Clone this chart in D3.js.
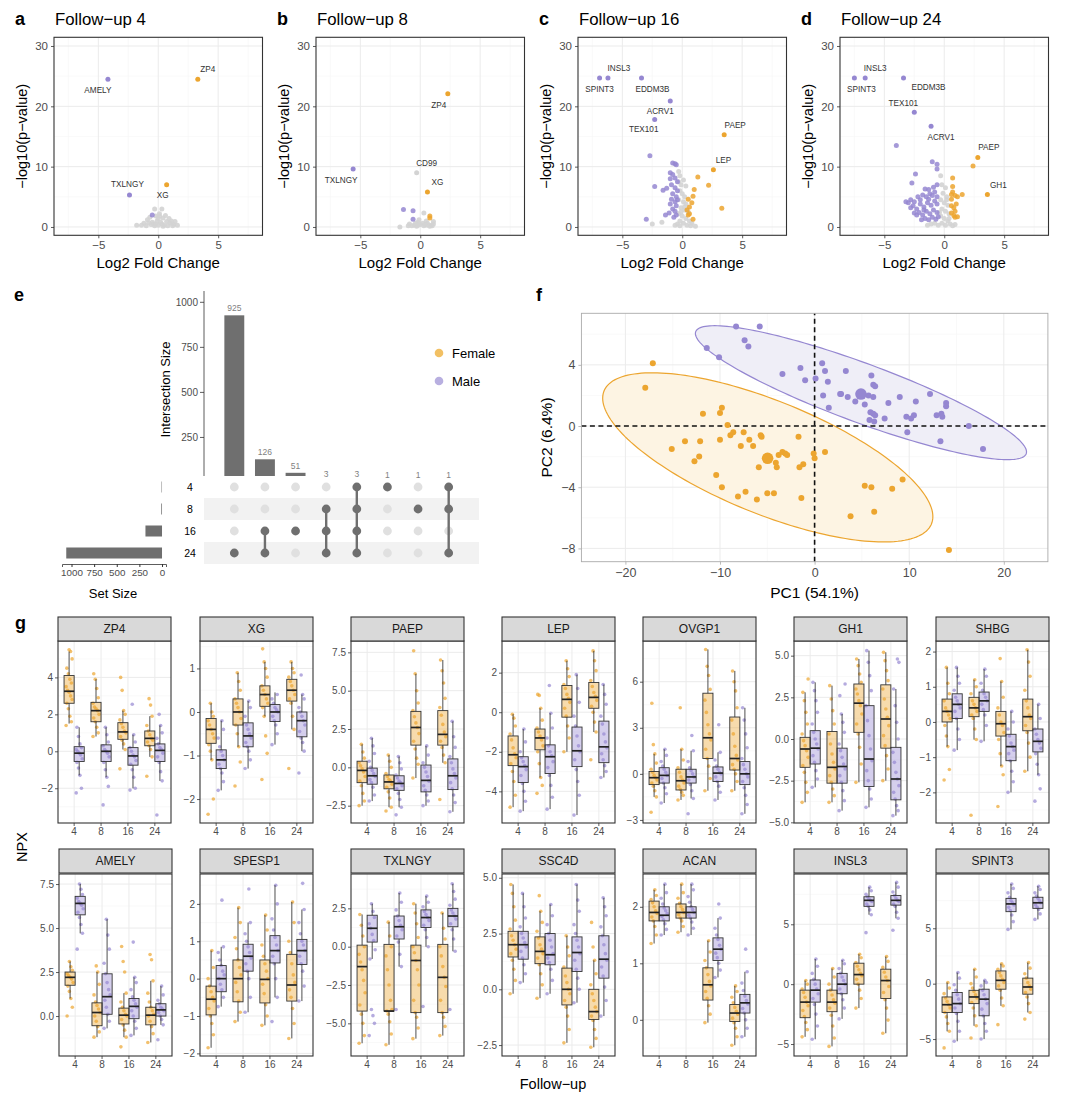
<!DOCTYPE html>
<html>
<head>
<meta charset="utf-8">
<script src="https://cdn.jsdelivr.net/npm/d3@7"></script>
<style>
  body { margin: 0; background: #fff; }
  text { font-family: 'Liberation Sans', Arial, Helvetica, sans-serif; }
</style>
</head>
<body>
<script>
// ---------------------------------------------------------------- data

const followUps = ['4', '8', '16', '24'];
const sexes = ['F', 'M'];

// volcano plots (a-d): labelled proteins [name, group, log2FC, -log10 p]
const volcanoLabelled = [
  [['AMELY', 'M', -4.2, 24.5], ['ZP4', 'F', 3.3, 24.5], ['TXLNGY', 'M', -2.4, 5.3], ['XG', 'F', 0.7, 7.0]],
  [['TXLNGY', 'M', -5.6, 9.6], ['ZP4', 'F', 2.3, 22.1], ['CD99', 'N', -0.3, 9.0], ['XG', 'F', 0.6, 5.8]],
  [['SPINT3', 'M', -6.9, 24.7], ['INSL3', 'M', -6.2, 24.7], ['EDDM3B', 'M', -3.4, 24.7], ['ACRV1', 'M', -1.0, 20.9],
   ['TEX101', 'M', -2.3, 17.8], ['PAEP', 'F', 3.5, 15.3], ['LEP', 'F', 2.6, 9.5]],
  [['SPINT3', 'M', -7.5, 24.7], ['INSL3', 'M', -6.6, 24.7], ['EDDM3B', 'M', -3.4, 24.7], ['TEX101', 'M', -2.5, 19.0],
   ['ACRV1', 'M', -1.1, 16.7], ['PAEP', 'F', 2.8, 11.5], ['GH1', 'F', 3.6, 5.4]],
];

// remaining proteins, "log2FC,-log10p" pairs
const volcanoNS = [
  '-1.8,0.3 -1.2,0.6 -0.9,1.2 -0.6,0.4 -0.3,3.0 0.3,3.0 -0.2,1.8 0.1,2.2 0.4,1.5 0.7,0.9 1.0,0.6 1.3,0.4 1.6,0.3 -0.5,0.8 0,0.3 0.2,0.8 -0.3,0.2 0.5,0.3 0.8,0.2 -1.0,0.2 1.1,1.0 0.6,1.9 -0.1,1.0 0.9,1.4 -0.7,1.6 0.3,0.5 -0.4,0.5 0,1.4 1.4,0.9 -1.4,0.3 -0.2,0.5 0.4,0.1 1.2,0.2 -0.8,0.7 0.1,1.8',
  '-1.7,0 -0.9,0.5 -0.5,0.3 0.3,2.3 -0.2,0.8 0,0.4 0.3,0.2 0.6,0.6 0.9,0.3 1.1,0.9 -0.7,0.2 0.5,1.0 -0.3,0.1 0.2,0.6 0.8,0.1 1.0,0.2 -0.1,1.2 -0.4,0.6 0.6,0.3 -1,0.2 1.1,0.5 0.4,0.4 -0.2,0.3',
  '-0.3,9.2 -0.2,8.5 -0.3,7.5 -0.1,7.0 0.3,6.8 -0.2,6.0 0,5.5 0.2,5.0 -0.3,4.5 0.1,4.2 0.3,3.8 -0.1,3.2 0.2,2.8 0.5,2.5 -0.3,2.2 0,1.8 0.3,1.4 -0.2,1.0 0.6,1.0 0.1,0.6 0.4,0.3 -0.4,0.5 0.8,0.6 1.1,0.1 -1.7,0.8 -2.5,0.5 -0.6,0.3 0.7,0.2 -0.2,0.2 0.2,3.3 -0.1,2.5 0.1,7.8',
  '-0.3,8.5 -0.2,7.0 0.1,6.5 -0.1,5.6 0.2,5.0 -0.3,4.5 0,4.0 0.3,3.6 -0.2,3.0 0.1,2.6 0.4,2.2 -0.3,1.8 0,1.4 0.3,1.0 -0.2,0.6 0.1,0.3 0.5,0.5 -0.5,0.3 -0.8,0.6 0.7,0.2 -1.1,0.5 -1.4,0.3 0.2,4.5 -0.4,2.4 0.4,1.4 0.9,0.4',
];
const volcanoFemale = [
  '',
  '0.8,1.8 0.8,1.5',
  '1.3,8.3 2.2,6.9 1.0,6.2 0.9,5.1 0.5,4.6 3.3,3.1 0.6,2.2 0.9,1.3 0.5,2.0 0.6,3.3 0.4,2.8 0.8,4.0',
  '0.7,8.1 0.7,6.7 0.7,5.8 0.6,5.4 1.5,5.4 1.1,5.0 0.9,5.2 0.6,4.6 1.0,3.8 0.6,3.5 0.8,3.2 0.9,2.6 0.8,1.9 1.1,1.7 0.9,1.6 0.6,2.3 2.4,10.1',
];
const volcanoMale = [
  '-0.5,2.0',
  '-1.4,2.9 -0.6,2.7 -0.6,1.3',
  '-2.7,11.8 -0.8,10.6 -0.6,10.5 -0.5,10.3 -1.0,9.0 -0.8,8.7 -1.0,8.0 -0.6,8.1 -2.3,6.7 -1.6,6.1 -1.3,6.4 -0.9,7.0 -0.6,6.5 -0.8,5.5 -0.5,5.0 -0.9,4.6 -0.6,4.2 -1.0,3.8 -0.5,3.5 -0.8,3.0 -0.6,2.6 -1.1,2.3 -0.5,2.0 -0.7,1.6 -3.0,1.3 -1.4,2.0 -0.4,7.5 -0.4,6.0 -0.4,4.5',
  '-4.0,13.5 -1.0,10.8 -0.6,10.4 -0.6,9.6 -2.4,8.8 -2.7,7.3 -0.6,7.0 -1.3,6.2 -1.6,6.3 -0.9,6.6 -2.8,4.5 -3.0,4.0 -2.5,4.2 -2.2,5.0 -2.0,4.5 -1.8,5.3 -1.5,5.0 -1.2,5.5 -1.0,5.2 -0.8,5.8 -0.6,5.0 -2.6,3.5 -2.3,3.0 -2.0,3.8 -1.7,3.3 -1.4,4.0 -1.1,3.6 -0.8,4.3 -0.6,3.8 -2.1,2.4 -1.8,2.0 -1.5,2.6 -1.2,2.2 -0.9,2.8 -0.6,2.4 -1.6,1.4 -1.3,1.2 -1.0,1.6 -0.7,1.3 -2.5,2.3 -2.3,2.0 -1.9,1.2 -2.8,3.2 -3.2,4.2 -1.3,4.6 -0.5,1.7 -1.7,2.8',
];

// upset plot (e)
const setNames = ['4', '8', '16', '24'];
const setSizes = [5, 8, 183, 1058];
const intersectionSizes = [925, 126, 51, 3, 3, 1, 1, 1];
const intersectionSets = [['24'], ['16', '24'], ['16'], ['8', '16', '24'], ['4', '8', '16', '24'], ['4'], ['8'], ['4', '8', '24']];

// PCA (f), "PC1,PC2" pairs
const pcaFemale = '-17.1,4.1 -17.9,2.5 -9.8,1.2 -10.0,0.85 -11.8,0.8 -9.2,0.07 -15.1,-1.5 -13.7,-1.0 -12.1,-1.0 -10.0,-0.9 -8.9,-0.6 -8.6,-0.4 -7.5,-0.4 -6.9,-0.9 -7.8,-1.3 -6.5,-1.3 -5.7,-0.6 -5.6,-0.7 -1.7,-0.7 -12.7,-2.3 -12.2,-2.0 -3.8,-1.9 -3.4,-1.7 -3.1,-1.8 -2.9,-1.9 -4.1,-2.4 -4.0,-2.7 -5.9,-2.7 -1.6,-2.7 -1.2,-2.5 -0.1,-1.8 0.0,-2.1 1.1,-1.7 -10.4,-3.2 -9.8,-4.0 -7.3,-4.3 -8.1,-4.6 -5.0,-4.4 -4.3,-4.4 -6.1,-4.8 -1.4,-4.7 5.3,-3.9 6.0,-4.0 8.2,-4.1 9.3,-3.5 3.8,-5.9 6.3,-5.6 14.2,-8.1';
const pcaMale = '-8.3,6.5 -5.8,6.5 -7.4,5.6 -7.0,5.2 -11.4,5.1 -10.1,4.5 0.8,4.1 -1.5,3.8 1.1,3.6 3.3,3.6 -3.4,3.4 6.0,3.3 -1.0,3.0 0.1,3.1 1.4,2.9 6.2,2.7 6.4,2.6 2.7,2.1 2.8,2.1 3.5,1.9 0.9,2.0 5.7,2.0 6.2,1.9 9.0,1.9 12.2,2.1 4.3,1.6 5.3,1.4 7.8,1.5 10.7,1.6 13.9,1.5 13.9,1.3 1.5,1.2 5.9,0.9 6.2,0.8 6.4,0.7 7.4,0.5 5.8,0.4 6.3,0.3 9.7,0.6 10.2,0.5 10.5,0.7 12.9,0.7 13.4,0.8 13.5,0.6 16.3,0.0 9.8,-0.4 13.3,-1.0 17.8,-1.5';
const pcaCentroids = [['F', -4.97, -2.11], ['M', 4.9, 2.09]];
// ellipse: centre, conjugate half-axis (ax, ay) and vertical half-axis h
const pcaEllipses = [
  { group: 'F', cx: -4.95, cy: -2.05, ax: 17.45, ay: -3.87, h: 3.95 },
  { group: 'M', cx: 4.9, cy: 2.18, ax: 17.5, ay: -3.87, h: 2.05 },
];

// boxplots (g): per protein, 8 groups in order 4F 4M 8F 8M 16F 16M 24F 24M
const genes = ['ZP4', 'XG', 'PAEP', 'LEP', 'OVGP1', 'GH1', 'SHBG', 'AMELY', 'SPESP1', 'TXLNGY', 'SSC4D', 'ACAN', 'INSL3', 'SPINT3'];

const geneTicks = {
  ZP4: [-2, 0, 2, 4], XG: [-2, -1, 0, 1], PAEP: [-2.5, 0, 2.5, 5, 7.5], LEP: [-4, -2, 0, 2],
  OVGP1: [-3, 0, 3, 6], GH1: [-5, -2.5, 0, 2.5, 5], SHBG: [-2, -1, 0, 1, 2],
  AMELY: [0, 2.5, 5, 7.5], SPESP1: [-2, -1, 0, 1, 2], TXLNGY: [-5, -2.5, 0, 2.5],
  SSC4D: [-2.5, 0, 2.5, 5], ACAN: [0, 1, 2], INSL3: [-5, 0, 5], SPINT3: [-5, 0, 5],
};

// [lower whisker, q1, median, q3, upper whisker]
const boxStats = {
  ZP4: [[1.5, 2.6, 3.25, 4.1, 5.4], [-1.3, -0.55, -0.1, 0.25, 1.3], [0.8, 1.6, 2.2, 2.65, 3.9], [-1.4, -0.55, 0, 0.35, 1.3],
        [0.1, 0.65, 1.05, 1.55, 2.2], [-2.0, -0.75, -0.25, 0.2, 0.9], [-0.3, 0.3, 0.7, 1.1, 1.9], [-1.6, -0.55, 0.05, 0.4, 1.4]],
  XG: [[-1.1, -0.72, -0.4, -0.15, 0.2], [-1.8, -1.3, -1.1, -0.87, -0.2], [-0.8, -0.3, 0, 0.3, 0.9], [-1.3, -0.8, -0.55, -0.25, 0.25],
       [-0.1, 0.13, 0.4, 0.6, 1.15], [-0.75, -0.22, 0, 0.17, 0.45], [-0.4, 0.25, 0.5, 0.75, 1.15], [-0.9, -0.57, -0.2, 0, 0.4]],
  PAEP: [[-2.5, -1.0, -0.2, 0.4, 1.5], [-2.2, -1.1, -0.55, -0.05, 1.9], [-2.6, -1.4, -0.95, -0.5, 0.8], [-2.6, -1.5, -1.05, -0.55, 0.7],
         [-0.7, 1.45, 2.6, 3.65, 6.1], [-2.5, -1.6, -0.85, 0.15, 1.4], [0.3, 1.45, 2.15, 3.7, 7.0], [-2.9, -1.45, -0.55, 0.55, 3.0]],
  LEP: [[-4.8, -2.7, -2.15, -1.2, -0.1], [-5.0, -3.55, -2.75, -2.25, -0.85], [-3.3, -1.9, -1.3, -0.85, 0.2], [-4.9, -3.1, -2.25, -1.65, -0.05],
        [-2.0, -0.25, 0.65, 1.35, 2.6], [-5.2, -2.75, -1.95, -0.75, 1.9], [-1.0, 0.2, 0.75, 1.5, 3.1], [-3.3, -2.55, -1.75, -0.45, 1.4]],
  OVGP1: [[-1.5, -0.7, -0.25, 0.15, 1.3], [-1.9, -0.6, -0.1, 0.4, 1.6], [-1.7, -1.05, -0.45, 0.3, 1.6], [-1.6, -0.6, -0.2, 0.3, 1.5],
          [-1.1, 1.0, 2.35, 5.25, 8.1], [-1.7, -0.5, 0.05, 0.45, 1.4], [-1.1, 0.25, 1.0, 3.7, 6.7], [-2.6, -0.7, 0, 0.8, 4.3]],
  GH1: [[-3.8, -1.7, -0.6, 0.1, 2.8], [-2.9, -1.5, -0.55, 0.5, 3.4], [-3.8, -2.65, -1.7, 0.45, 3.2], [-4.3, -2.65, -1.65, -0.55, 1.5],
        [-2.6, 0.4, 2.15, 3.3, 4.8], [-4.1, -2.85, -1.2, 2.0, 5.3], [-2.5, -0.55, 1.2, 3.25, 5.2], [-4.6, -3.65, -2.4, -0.5, 3.0]],
  SHBG: [[-0.7, 0, 0.3, 0.65, 1.55], [-0.8, 0.1, 0.5, 0.8, 1.55], [-0.5, 0.15, 0.4, 0.7, 1.2], [-0.55, 0.3, 0.6, 0.85, 1.5],
         [-1.25, -0.4, -0.05, 0.3, 1.15], [-2.0, -1.1, -0.7, -0.35, 0.3], [-1.4, -0.25, 0.15, 0.65, 2.05], [-1.5, -0.85, -0.55, -0.2, 0.5]],
  AMELY: [[1.0, 1.75, 2.2, 2.5, 3.1], [4.7, 5.75, 6.4, 6.8, 7.5], [-1.2, -0.55, 0.2, 0.75, 2.5], [-0.7, 0.1, 1.1, 2.4, 5.5],
          [-1.2, -0.45, 0.05, 0.45, 1.3], [-1.1, -0.15, 0.55, 1.0, 2.2], [-1.5, -0.5, 0.05, 0.5, 2.0], [-0.5, 0, 0.35, 0.7, 1.7]],
  SPESP1: [[-1.85, -0.97, -0.55, -0.2, 0.75], [-0.75, -0.35, 0, 0.35, 0.85], [-1.15, -0.62, 0, 0.5, 1.9], [-0.9, 0.2, 0.6, 0.92, 1.5],
           [-1.25, -0.65, -0.02, 0.5, 1.7], [-0.5, 0.42, 0.75, 1.15, 2.5], [-1.6, -0.6, -0.17, 0.65, 2.05], [-0.6, 0.38, 0.75, 1.05, 1.85]],
  TXLNGY: [[-6.3, -4.2, -1.3, 0.1, 2.1], [-0.8, 0.3, 1.2, 2.05, 2.8], [-6.4, -4.2, -4.2, 0.15, 1.6], [-1.3, 0.5, 1.3, 2.0, 3.5],
           [-6.0, -4.3, -0.9, 0.1, 2.8], [0, 1.25, 1.9, 2.4, 3.3], [-5.8, -4.3, -2.0, 0.15, 2.2], [-0.3, 1.3, 2.0, 2.5, 4.1]],
  SSC4D: [[-0.2, 1.45, 2.0, 2.6, 4.7], [0.3, 1.35, 2.0, 2.6, 4.3], [-0.4, 1.15, 1.7, 2.35, 3.5], [-0.2, 1.1, 1.55, 2.5, 3.8],
          [-2.4, -0.7, 0, 0.95, 2.4], [-0.6, 0.8, 1.65, 2.35, 4.7], [-2.6, -1.35, -1.0, 0, 1.3], [-1.2, 0.5, 1.35, 2.4, 4.1]],
  ACAN: [[1.35, 1.75, 1.9, 2.1, 2.3], [1.5, 1.75, 1.85, 2.0, 2.4], [1.55, 1.8, 1.9, 2.05, 2.4], [1.5, 1.8, 1.9, 2.0, 2.4],
         [-0.05, 0.35, 0.62, 0.92, 1.4], [0.75, 1.05, 1.25, 1.45, 1.8], [-0.45, -0.03, 0.12, 0.27, 0.6], [-0.3, 0.12, 0.3, 0.45, 0.85]],
  INSL3: [[-4.4, -2.8, -1.5, -0.5, 0.3], [-4.6, -1.5, -0.5, 0.35, 2.1], [-5.2, -2.3, -1.5, -0.5, 1.3], [-2.9, -0.8, 0, 0.9, 2.0],
          [-2.0, 0, 0.8, 1.75, 2.5], [5.8, 6.5, 7.0, 7.3, 8.1], [-4.1, -1.2, 0.3, 1.25, 2.3], [5.5, 6.6, 7.0, 7.4, 8.5]],
  SPINT3: [[-4.3, -2.6, -1.9, -1.2, 0.1], [-5.2, -2.6, -1.8, -0.8, 1.0], [-3.8, -1.8, -1.2, -0.6, 1.3], [-5.0, -2.9, -1.4, -0.5, 0.3],
           [-2.0, -0.5, 0.3, 1.15, 1.8], [4.9, 6.5, 7.2, 7.7, 9.0], [-2.6, -0.95, -0.3, 0.5, 1.9], [5.8, 6.8, 7.3, 7.8, 8.8]],
};

// individual NPX values (subset)
const boxPoints = {
  ZP4: ['1.4 1.6 1.9 2.3 2.6 2.8 3.0 3.2 3.3 3.5 3.7 3.9 4.2 4.5 5.0 5.4 5.5', '-2.25 -2.0 -1.3 -0.9 -0.6 -0.4 -0.2 -0.1 0 0.1 0.2 0.4 0.8 1.3',
        '0.8 1.0 1.3 1.6 1.8 2.0 2.2 2.3 2.4 2.6 2.9 3.4 3.9 4.2', '-2.9 -1.9 -1.4 -1.0 -0.6 -0.3 -0.1 0 0.1 0.3 0.5 0.9 1.3',
        '-0.95 0.1 0.4 0.6 0.8 1.0 1.1 1.3 1.5 1.7 2.0 2.2 3.3 4.0', '-2.1 -2.0 -1.4 -1.0 -0.7 -0.5 -0.3 -0.2 0 0.2 0.5 0.9 2.55',
        '-1.35 -0.3 0.1 0.3 0.5 0.6 0.7 0.9 1.1 1.4 1.9 2.5 2.85', '-3.45 -1.6 -1.1 -0.6 -0.3 -0.1 0.1 0.2 0.4 0.7 1.0 1.4 2.0'],
  XG: ['-2.35 -2.0 -1.1 -0.9 -0.75 -0.6 -0.5 -0.4 -0.3 -0.2 -0.1 0 0.2', '-1.8 -1.6 -1.4 -1.3 -1.2 -1.1 -1.0 -0.9 -0.8 -0.6 -0.4 -0.2',
       '-1.7 -1.15 -0.8 -0.5 -0.3 -0.15 0 0.1 0.2 0.3 0.5 0.7 0.9', '-1.3 -1.1 -0.9 -0.8 -0.7 -0.6 -0.5 -0.4 -0.3 -0.1 0.1 0.25',
       '-1.55 -0.95 -0.55 -0.1 0.1 0.2 0.3 0.4 0.5 0.6 0.8 1.0 1.15 1.45', '-0.75 -0.5 -0.3 -0.2 -0.1 0 0.05 0.1 0.2 0.3 0.4',
       '-1.3 -0.4 -0.1 0.2 0.3 0.4 0.5 0.6 0.7 0.8 0.9 1.0 1.15', '-1.4 -0.9 -0.7 -0.6 -0.45 -0.3 -0.2 -0.1 0 0.1 0.3 0.4 0.85'],
  PAEP: ['-2.5 -2.2 -1.7 -1.2 -0.9 -0.6 -0.3 -0.1 0.1 0.3 0.6 1.0 1.5', '-2.2 -1.8 -1.3 -1.0 -0.8 -0.6 -0.4 -0.2 0 0.4 0.9 1.4 1.9',
         '-2.85 -2.6 -2.0 -1.6 -1.3 -1.1 -0.9 -0.8 -0.6 -0.4 0 0.4 0.8', '-3.1 -2.6 -2.1 -1.7 -1.4 -1.2 -1.0 -0.9 -0.7 -0.5 -0.1 0.3 0.7',
         '-0.7 0.2 0.6 1.2 1.7 2.2 2.6 2.9 3.3 3.7 4.2 5.0 6.1 7.6', '-2.5 -2.2 -1.8 -1.5 -1.2 -0.9 -0.6 -0.3 0 0.3 0.8 1.4',
         '-2.1 0.3 0.8 1.3 1.7 2.0 2.3 2.8 3.4 3.9 4.5 5.5 6.3 7.0', '-2.9 -2.3 -1.8 -1.4 -1.0 -0.7 -0.4 -0.1 0.3 0.7 1.3 2.0 3.0'],
  LEP: ['-4.8 -4.2 -3.5 -3.0 -2.6 -2.3 -2.1 -1.8 -1.4 -1.1 -0.7 -0.3 -0.1', '-5.0 -4.5 -4.0 -3.6 -3.2 -2.9 -2.7 -2.5 -2.3 -2.0 -1.5 -0.85',
        '-4.1 -3.7 -3.3 -2.6 -2.0 -1.7 -1.4 -1.2 -1.0 -0.8 -0.4 0.2 0.85 0.9', '-4.9 -4.3 -3.7 -3.2 -2.8 -2.5 -2.2 -2.0 -1.7 -1.3 -0.8 -0.05 1.35',
        '-2.0 -1.3 -0.7 -0.2 0.2 0.5 0.7 0.9 1.2 1.4 1.8 2.2 2.6', '-5.2 -4.2 -3.5 -2.9 -2.4 -2.0 -1.7 -1.2 -0.7 -0.2 0.5 1.2 1.9',
        '-2.4 -1.0 -0.5 0 0.3 0.6 0.8 1.0 1.3 1.6 2.1 2.6 3.1', '-3.3 -3.0 -2.7 -2.4 -2.1 -1.8 -1.5 -1.1 -0.6 -0.2 0.4 0.9 1.4'],
  OVGP1: ['-2.5 -1.5 -1.1 -0.8 -0.6 -0.4 -0.25 -0.1 0.1 0.3 0.7 1.3 1.9 4.6', '-1.9 -1.3 -0.9 -0.6 -0.3 -0.1 0.1 0.3 0.5 0.8 1.2 1.6',
          '-1.7 -1.4 -1.2 -1.0 -0.8 -0.6 -0.4 -0.2 0.1 0.4 0.9 1.6 4.3', '-2.6 -1.6 -1.1 -0.7 -0.4 -0.2 0 0.2 0.4 0.8 1.5 2.5',
          '-1.1 -0.3 0.5 1.0 1.6 2.2 2.6 3.2 4.0 4.8 5.5 6.4 7.0 8.1', '-1.7 -1.2 -0.8 -0.5 -0.2 0 0.1 0.3 0.5 0.9 1.4 3.2',
          '-1.1 -0.5 0 0.3 0.6 0.9 1.2 1.8 2.6 3.5 4.3 5.4 6.0 6.7', '-2.6 -2.0 -1.4 -0.9 -0.5 -0.2 0 0.3 0.6 1.0 1.7 2.6 3.5 4.3'],
  GH1: ['-3.8 -3.2 -2.6 -2.0 -1.6 -1.1 -0.7 -0.4 -0.1 0.3 0.9 1.6 2.3 2.8 3.6', '-2.9 -2.4 -1.9 -1.4 -1.0 -0.6 -0.3 0 0.4 0.9 1.6 2.3 2.9 3.4',
        '-3.8 -3.4 -3.0 -2.6 -2.2 -1.8 -1.4 -0.9 -0.3 0.3 0.9 1.7 2.4 3.2', '-4.3 -3.7 -3.1 -2.6 -2.2 -1.8 -1.5 -1.1 -0.7 -0.3 0.4 1.0 1.5 2.6 3.3',
        '-2.6 -1.5 -0.5 0.3 0.9 1.5 2.0 2.3 2.7 3.0 3.4 3.9 4.4 4.8', '-4.1 -3.6 -3.0 -2.5 -1.9 -1.3 -0.6 0.2 1.1 2.0 2.9 3.8 4.6 5.3',
        '-2.5 -1.8 -1.0 -0.4 0.2 0.8 1.3 1.8 2.4 3.0 3.5 4.1 4.7 5.2', '-4.6 -4.3 -4.0 -3.6 -3.2 -2.8 -2.4 -2.0 -1.4 -0.8 0 1.0 2.0 3.0 4.6 4.8'],
  SHBG: ['-1.65 -1.35 -0.7 -0.4 -0.1 0.1 0.2 0.3 0.4 0.6 0.8 1.1 1.55', '-0.8 -0.5 -0.2 0.1 0.3 0.4 0.5 0.6 0.7 0.9 1.1 1.3 1.55',
         '-2.65 -0.5 -0.2 0.1 0.2 0.3 0.4 0.5 0.6 0.8 1.0 1.2', '-0.55 -0.1 0.2 0.35 0.5 0.6 0.7 0.8 0.9 1.1 1.3 1.5',
         '-2.4 -1.5 -1.25 -0.9 -0.5 -0.3 -0.1 0 0.2 0.4 0.7 1.15 1.8', '-2.0 -1.7 -1.4 -1.1 -0.9 -0.8 -0.7 -0.6 -0.4 -0.2 0 0.3',
         '-1.4 -1.0 -0.6 -0.3 -0.1 0.1 0.2 0.4 0.6 0.9 1.3 1.7 2.05', '-2.25 -1.9 -1.5 -1.2 -0.9 -0.75 -0.6 -0.5 -0.35 -0.2 0.1 0.5'],
  AMELY: ['0 0.5 1.0 1.4 1.7 1.9 2.1 2.2 2.3 2.4 2.6 2.8 3.1', '3.8 4.7 5.2 5.6 5.9 6.1 6.3 6.4 6.5 6.7 6.9 7.2 7.5',
          '-1.2 -0.9 -0.6 -0.3 0 0.2 0.4 0.6 0.8 1.2 1.8 2.5 2.85', '-0.7 -0.3 0.1 0.5 0.9 1.2 1.5 1.9 2.4 3.0 3.8 4.6 5.5',
          '-1.75 -1.2 -0.8 -0.5 -0.2 0 0.1 0.3 0.5 0.8 1.3 2.5 3.1 3.95', '-1.1 -0.7 -0.3 0 0.3 0.5 0.7 0.9 1.1 1.5 1.9 2.2 4.2',
          '-1.5 -1.0 -0.6 -0.3 0 0.1 0.3 0.5 0.8 1.3 2.0 3.2 3.5', '-1.35 -0.5 -0.2 0 0.2 0.3 0.4 0.5 0.7 0.9 1.2 1.7'],
  SPESP1: ['-1.85 -1.5 -1.2 -1.0 -0.8 -0.6 -0.5 -0.35 -0.2 0 0.3 0.75', '-0.75 -0.5 -0.3 -0.15 0 0.1 0.2 0.35 0.5 0.7 0.85 2.1',
           '-1.15 -0.9 -0.6 -0.35 -0.1 0.1 0.3 0.5 0.8 1.1 1.5 1.9', '-0.9 -0.5 0 0.2 0.4 0.55 0.7 0.85 1.0 1.2 1.5 2.4',
           '-1.25 -1.0 -0.7 -0.4 -0.15 0 0.2 0.4 0.6 0.9 1.3 1.7', '-1.15 -0.5 0 0.4 0.6 0.75 0.9 1.1 1.3 1.6 2.0 2.5',
           '-1.6 -1.2 -0.8 -0.5 -0.3 -0.1 0.1 0.4 0.7 1.0 1.5 2.05', '-0.6 -0.2 0.2 0.4 0.6 0.75 0.9 1.0 1.2 1.5 1.85 2.55'],
  TXLNGY: ['-6.3 -5.8 -5.0 -4.4 -3.8 -3.0 -2.2 -1.5 -1.0 -0.5 0 0.7 1.4 2.1', '-5.8 -5.0 -4.5 -4.1 -0.8 -0.2 0.4 0.8 1.2 1.5 1.9 2.3 2.8',
           '-6.4 -5.7 -4.9 -4.4 -4.2 -4.1 -3.5 -2.5 -1.5 -0.6 0 0.7 1.6', '-4.1 -1.3 -0.5 0.3 0.7 1.1 1.4 1.7 2.0 2.4 2.9 3.5',
           '-6.0 -5.3 -4.6 -4.3 -3.5 -2.5 -1.5 -0.9 -0.4 0 0.6 1.5 2.2 2.8', '-3.9 0 0.6 1.1 1.4 1.7 1.9 2.1 2.3 2.6 2.9 3.3',
           '-5.8 -5.2 -4.6 -4.3 -3.5 -2.6 -2.0 -1.3 -0.6 0 0.5 1.2 2.2', '-4.1 -0.3 0.5 1.1 1.5 1.8 2.0 2.2 2.4 2.7 3.1 3.6 4.1'],
  SSC4D: ['-0.2 0.4 0.9 1.3 1.6 1.8 2.0 2.2 2.4 2.7 3.1 3.7 4.3 4.7', '0.3 0.7 1.1 1.4 1.7 1.9 2.1 2.3 2.5 2.8 3.2 3.7 4.3',
          '-0.4 0.2 0.7 1.1 1.4 1.6 1.8 2.0 2.3 2.6 3.0 3.5 4.2', '-0.2 0.4 0.9 1.2 1.4 1.6 1.9 2.2 2.5 2.9 3.3 3.8',
          '-2.4 -1.8 -1.2 -0.8 -0.5 -0.2 0 0.3 0.6 1.0 1.5 1.9 2.4', '-0.6 0 0.5 0.9 1.3 1.6 1.9 2.2 2.5 2.9 3.5 4.0 4.7',
          '-2.6 -2.2 -1.8 -1.4 -1.2 -1.0 -0.8 -0.5 -0.2 0.2 0.7 1.3 1.9 3.0', '-1.2 -0.5 0.1 0.6 1.0 1.3 1.6 2.0 2.4 2.8 3.3 3.7 4.1'],
  ACAN: ['1.35 1.5 1.65 1.75 1.82 1.88 1.93 2.0 2.07 2.13 2.2 2.3', '1.5 1.6 1.7 1.77 1.83 1.88 1.93 1.98 2.05 2.15 2.25 2.4',
         '1.55 1.65 1.75 1.8 1.86 1.9 1.95 2.0 2.06 2.15 2.25 2.4', '1.5 1.62 1.73 1.8 1.85 1.9 1.95 2.0 2.08 2.18 2.3 2.4',
         '-0.05 0.1 0.25 0.38 0.5 0.6 0.68 0.8 0.92 1.05 1.2 1.4', '0.75 0.88 1.0 1.1 1.18 1.25 1.32 1.42 1.5 1.62 1.8 2.05',
         '-0.45 -0.3 -0.15 -0.05 0.03 0.1 0.15 0.22 0.3 0.4 0.5 0.6', '-0.3 -0.15 0 0.12 0.2 0.28 0.34 0.42 0.52 0.65 0.85 1.25'],
  INSL3: ['-4.4 -3.8 -3.2 -2.7 -2.2 -1.8 -1.5 -1.1 -0.7 -0.4 0 0.3', '-4.6 -3.5 -2.5 -1.7 -1.2 -0.8 -0.4 0 0.4 0.9 1.5 2.1',
          '-5.2 -4.5 -3.5 -2.6 -2.0 -1.6 -1.3 -0.9 -0.5 0 0.6 1.3', '-2.9 -2.0 -1.3 -0.8 -0.4 0 0.3 0.6 0.9 1.3 1.7 2.0',
          '-2.0 -1.2 -0.5 0 0.4 0.7 0.9 1.2 1.5 1.8 2.2 2.5', '4.3 5.8 6.2 6.5 6.7 6.9 7.0 7.1 7.3 7.5 7.8 8.1',
          '-4.1 -3.0 -2.0 -1.3 -0.7 -0.2 0.3 0.6 1.0 1.4 1.9 2.3', '4.5 5.5 6.0 6.5 6.7 6.9 7.0 7.2 7.4 7.7 8.1 8.5'],
  SPINT3: ['-5.8 -4.3 -3.6 -3.0 -2.6 -2.2 -1.9 -1.6 -1.3 -0.9 -0.4 0.1', '-5.2 -4.3 -3.4 -2.7 -2.2 -1.8 -1.4 -1.0 -0.6 -0.1 0.5 1.0',
           '-4.9 -3.8 -2.9 -2.2 -1.7 -1.3 -1.0 -0.7 -0.4 0 0.6 1.3', '-5.0 -4.3 -3.6 -2.9 -2.3 -1.8 -1.4 -1.0 -0.6 -0.2 0.1 0.3',
           '-3.7 -2.0 -1.3 -0.6 -0.2 0.1 0.4 0.7 1.0 1.3 1.6 1.8', '4.9 5.6 6.2 6.6 6.9 7.1 7.3 7.5 7.8 8.2 8.6 9.0',
           '-3.2 -2.6 -1.8 -1.2 -0.8 -0.5 -0.2 0.1 0.5 0.9 1.4 1.9', '5.8 6.3 6.7 6.9 7.1 7.3 7.5 7.7 7.9 8.2 8.5 8.8'],
};

// ---------------------------------------------------------------- layout & style

const Style = {
  female: '#ECA52F',
  male: '#9587D1',
  ns: '#D3D3D3',
  legendFemale: '#F2C063',
  legendMale: '#B8AFE0',
  femaleFill: '#FDF4E3',
  maleFill: '#EFEEF7',
  upset: '#6F6F6F',
  upsetOff: '#E0E0E0',
  gridMajor: '#EBEBEB',
  gridMinor: '#F5F5F5',
  border: '#333333',
  tickText: '#4D4D4D',
};

const Layout = {
  volcanoLeft: [54, 316, 578, 840],
  volcanoWidth: 208.5,
  volcanoTop: 37.3,
  volcanoBottom: 235.3,
  pcaX: [581.4, 1047.9],
  pcaY: [561.7, 313.3],
  boxLeft: [[58, 200, 351, 502, 643, 794, 936], [59, 200, 351, 502, 643, 794, 936]],
  boxWidth: 113,
  stripTop: [617, 849],
  stripHeight: 24,
  plotTop: [641, 874],
  plotBottom: [823, 1056],
};

// label offsets in px, ggrepel-like placement
const volcanoNudge = [
  { AMELY: [-10, 11], ZP4: [10, -10], TXLNGY: [-2, -11], XG: [-4, 10] },
  { TXLNGY: [-12, 11], ZP4: [-9, 11], CD99: [10, -10], XG: [10, -10] },
  { SPINT3: [0, 11], INSL3: [11, -10], EDDM3B: [11, 11], ACRV1: [-10, 10], TEX101: [-11, 10], PAEP: [11, -10], LEP: [10, -10] },
  { SPINT3: [7, 11], INSL3: [10, -10], EDDM3B: [25, 9], TEX101: [-11, -9], ACRV1: [10, 11], PAEP: [11, -10], GH1: [11, -9] },
];

const boxDomains = {
  ZP4: [-3.88, 5.97], XG: [-2.55, 1.63], PAEP: [-3.63, 8.24], LEP: [-5.6, 3.6], OVGP1: [-3.2, 8.65],
  GH1: [-5.04, 5.88], SHBG: [-2.87, 2.3], AMELY: [-2.27, 8.07], SPESP1: [-2.07, 2.8], TXLNGY: [-7.13, 4.74],
  SSC4D: [-2.99, 5.17], ACAN: [-0.64, 2.58], INSL3: [-6.0, 9.2], SPINT3: [-6.53, 9.9],
};

const colorOf = g => (g === 'F' ? Style.female : g === 'M' ? Style.male : Style.ns);
const pairs = s => (s.trim() ? s.trim().split(/\s+/).map(p => p.split(',').map(Number)) : []);
const values = s => s.trim().split(/\s+/).map(Number);
const MINUS = '\u2212';

// ---------------------------------------------------------------- helpers

const svg = d3
  .select('body')
  .append('svg')
  .attr('width', 1080)
  .attr('height', 1093)
  .attr('xmlns', 'http://www.w3.org/2000/svg');

svg.append('rect').attr('width', 1080).attr('height', 1093).attr('fill', '#fff');

function text(g, x, y, str, opts = {}) {
  const t = g
    .append('text')
    .attr('x', x)
    .attr('y', y)
    .attr('font-size', opts.size || 12)
    .attr('fill', opts.fill || '#000')
    .attr('text-anchor', opts.anchor || 'start')
    .text(str);
  if (opts.bold) t.attr('font-weight', 'bold');
  if (opts.rotate) t.attr('transform', `rotate(-90, ${x}, ${y})`);
  if (opts.middle) t.attr('dy', '0.35em');
  return t;
}

function styleAxis(a, size) {
  a.attr('font-family', null).attr('font-size', size);
  a.select('.domain').remove();
  a.selectAll('.tick line').attr('stroke', Style.border).attr('stroke-width', 0.8);
  a.selectAll('.tick text').attr('fill', Style.tickText);
}

// minor breaks halfway between major breaks, kept inside the domain
function minorBreaks(major, domain) {
  const step = major[1] - major[0];
  const out = [];
  for (let v = major[0] - step / 2; v <= domain[1]; v += step) {
    if (v >= domain[0]) out.push(v);
  }
  return out;
}

function drawGrid(g, x, y, xMajor, xMinor, yMajor, yMinor) {
  const [x0, x1] = x.range();
  const [y0, y1] = y.range();
  const lines = (data, minor, vertical) =>
    g
      .selectAll(null)
      .data(data)
      .join('line')
      .attr('x1', d => (vertical ? x(d) : x0))
      .attr('x2', d => (vertical ? x(d) : x1))
      .attr('y1', d => (vertical ? y0 : y(d)))
      .attr('y2', d => (vertical ? y1 : y(d)))
      .attr('stroke', minor ? Style.gridMinor : Style.gridMajor)
      .attr('stroke-width', minor ? 0.6 : 1);
  lines(xMinor, true, true);
  lines(yMinor, true, false);
  lines(xMajor, false, true);
  lines(yMajor, false, false);
}

// ---------------------------------------------------------------- a-d volcano plots

function drawVolcano(i) {
  const left = Layout.volcanoLeft[i];
  const x = d3.scaleLinear().domain([-8.7, 8.7]).range([left, left + Layout.volcanoWidth]);
  const y = d3.scaleLinear().domain([-1.38, 31.44]).range([Layout.volcanoBottom, Layout.volcanoTop]);
  const g = svg.append('g').attr('class', `volcano v${i}`);

  drawGrid(g, x, y, [-5, 0, 5], [-7.5, -2.5, 2.5, 7.5], [0, 10, 20, 30], [5, 15, 25]);

  const layers = [
    ['N', volcanoNS[i]],
    ['F', volcanoFemale[i]],
    ['M', volcanoMale[i]],
  ];
  for (const [grp, str] of layers) {
    g.selectAll(null)
      .data(pairs(str))
      .join('circle')
      .attr('cx', d => x(d[0]))
      .attr('cy', d => y(d[1]))
      .attr('r', 2.5)
      .attr('fill', colorOf(grp))
      .attr('fill-opacity', grp === 'N' ? 0.9 : 0.85);
  }

  const lab = volcanoLabelled[i];
  g.selectAll(null)
    .data(lab)
    .join('circle')
    .attr('cx', d => x(d[2]))
    .attr('cy', d => y(d[3]))
    .attr('r', 2.5)
    .attr('fill', d => colorOf(d[1]));

  g.selectAll(null)
    .data(lab)
    .join('text')
    .attr('x', d => x(d[2]) + volcanoNudge[i][d[0]][0])
    .attr('y', d => y(d[3]) + volcanoNudge[i][d[0]][1])
    .attr('dy', '0.35em')
    .attr('text-anchor', 'middle')
    .attr('font-size', 8.2)
    .attr('fill', '#333')
    .text(d => d[0]);

  g.append('rect')
    .attr('x', x.range()[0])
    .attr('y', Layout.volcanoTop)
    .attr('width', Layout.volcanoWidth)
    .attr('height', Layout.volcanoBottom - Layout.volcanoTop)
    .attr('fill', 'none')
    .attr('stroke', Style.border)
    .attr('stroke-width', 1.1);

  const ax = g
    .append('g')
    .attr('transform', `translate(0,${Layout.volcanoBottom})`)
    .call(d3.axisBottom(x).tickValues([-5, 0, 5]).tickSize(3).tickPadding(3).tickFormat(d3.format('d')));
  styleAxis(ax, 11.5);
  const ay = g
    .append('g')
    .attr('transform', `translate(${left},0)`)
    .call(d3.axisLeft(y).tickValues([0, 10, 20, 30]).tickSize(3).tickPadding(3));
  styleAxis(ay, 11.5);

  const mid = (Layout.volcanoTop + Layout.volcanoBottom) / 2;
  text(g, left - 27, mid, `${MINUS}log10(p${MINUS}value)`, { size: 14.5, anchor: 'middle', rotate: true });
  text(g, left + Layout.volcanoWidth / 2, 268, 'Log2 Fold Change', { size: 15, anchor: 'middle' });
  text(g, left + 1, 25, `Follow${MINUS}up ${followUps[i]}`, { size: 16.8 });
  text(g, left - 39, 25, 'abcd'[i], { size: 18, bold: true });
}

d3.range(4).forEach(drawVolcano);

// ---------------------------------------------------------------- e upset plot

function drawUpset() {
  const g = svg.append('g').attr('class', 'upset');
  const matrixLeft = 204;
  const matrixRight = 479;

  const col = d3
    .scaleBand()
    .domain(d3.range(intersectionSizes.length))
    .range([219, 464])
    .paddingInner(0.35)
    .paddingOuter(0.175);
  const cx = i => col(i) + col.bandwidth() / 2;
  const row = d3.scaleBand().domain(setNames).range([476, 564]);
  const cy = s => row(s) + row.bandwidth() / 2;
  const barY = d3.scaleLinear().domain([0, 1060]).range([482, 291]);
  const setX = d3.scaleLinear().domain([-44, 1105]).range([166, 62]);

  // row shading
  g.selectAll(null)
    .data(setNames.filter((_, i) => i % 2 === 1))
    .join('rect')
    .attr('x', matrixLeft)
    .attr('y', d => row(d))
    .attr('width', matrixRight - matrixLeft)
    .attr('height', row.bandwidth())
    .attr('fill', '#F2F2F2');

  // intersection bars (clipped at the matrix)
  g.append('clipPath')
    .attr('id', 'barclip')
    .append('rect')
    .attr('x', matrixLeft)
    .attr('y', 280)
    .attr('width', 300)
    .attr('height', row.range()[0] - 280);
  g.append('g')
    .attr('clip-path', 'url(#barclip)')
    .selectAll('rect')
    .data(intersectionSizes)
    .join('rect')
    .attr('x', (d, i) => col(i))
    .attr('y', d => barY(d))
    .attr('width', col.bandwidth())
    .attr('height', d => barY(0) - barY(d))
    .attr('fill', Style.upset);

  g.selectAll(null)
    .data(intersectionSizes)
    .join('text')
    .attr('x', (d, i) => cx(i))
    .attr('y', d => barY(d) - 4)
    .attr('text-anchor', 'middle')
    .attr('font-size', 8.5)
    .attr('fill', '#7F7F7F')
    .text(d => d);

  const ay = g
    .append('g')
    .attr('transform', `translate(${matrixLeft},0)`)
    .call(d3.axisLeft(barY).tickValues([250, 500, 750, 1000]).tickSize(4).tickPadding(2).tickFormat(d3.format('d')));
  styleAxis(ay, 10);
  g.append('line')
    .attr('x1', matrixLeft)
    .attr('x2', matrixLeft)
    .attr('y1', barY.range()[1])
    .attr('y2', row.range()[0])
    .attr('stroke', Style.border)
    .attr('stroke-width', 0.8);
  text(g, 170, (barY.range()[1] + row.range()[0]) / 2 + 6, 'Intersection Size', { size: 13, anchor: 'middle', rotate: true });

  // matrix
  const cells = [];
  intersectionSets.forEach((sets, i) => setNames.forEach(s => cells.push({ i, s, on: sets.includes(s) })));
  g.selectAll(null)
    .data(cells)
    .join('circle')
    .attr('cx', d => cx(d.i))
    .attr('cy', d => cy(d.s))
    .attr('r', 4.4)
    .attr('fill', d => (d.on ? Style.upset : Style.upsetOff));

  g.selectAll(null)
    .data(intersectionSets.map((sets, i) => ({ i, sets })).filter(d => d.sets.length > 1))
    .join('line')
    .attr('x1', d => cx(d.i))
    .attr('x2', d => cx(d.i))
    .attr('y1', d => d3.min(d.sets, cy))
    .attr('y2', d => d3.max(d.sets, cy))
    .attr('stroke', Style.upset)
    .attr('stroke-width', 2.4);

  // set labels
  g.selectAll(null)
    .data(setNames)
    .join('text')
    .attr('x', 190)
    .attr('y', d => cy(d))
    .attr('dy', '0.35em')
    .attr('text-anchor', 'middle')
    .attr('font-size', 10.5)
    .attr('fill', '#000')
    .text(d => d);

  // set size bars
  g.selectAll(null)
    .data(setSizes)
    .join('rect')
    .attr('x', d => setX(d))
    .attr('y', (d, i) => cy(setNames[i]) - 5.5)
    .attr('width', d => setX(0) - setX(d))
    .attr('height', 11)
    .attr('fill', Style.upset);

  const ax = g
    .append('g')
    .attr('transform', `translate(0,${row.range()[1]})`)
    .call(d3.axisBottom(setX).tickValues([1000, 750, 500, 250, 0]).tickSize(3).tickPadding(2).tickFormat(d3.format('d')));
  ax.attr('font-family', null).attr('font-size', 9.8);
  ax.select('.domain').attr('stroke', Style.border).attr('stroke-width', 0.8);
  ax.selectAll('.tick line').attr('stroke', Style.border);
  ax.selectAll('.tick text').attr('fill', Style.tickText);
  text(g, 113, 598, 'Set Size', { size: 13, anchor: 'middle' });

  // legend
  const legend = [['Female', Style.legendFemale], ['Male', Style.legendMale]];
  g.selectAll(null)
    .data(legend)
    .join('circle')
    .attr('cx', 439)
    .attr('cy', (d, i) => 353 + i * 28)
    .attr('r', 4.3)
    .attr('fill', d => d[1]);
  g.selectAll(null)
    .data(legend)
    .join('text')
    .attr('x', 452)
    .attr('y', (d, i) => 353 + i * 28)
    .attr('dy', '0.35em')
    .attr('font-size', 13)
    .text(d => d[0]);

  text(g, 14, 301, 'e', { size: 18, bold: true });
}

drawUpset();

// ---------------------------------------------------------------- f PCA

function drawPca() {
  const g = svg.append('g').attr('class', 'pca');
  const x = d3.scaleLinear().domain([-24.65, 24.66]).range(Layout.pcaX);
  const y = d3.scaleLinear().domain([-8.87, 7.37]).range(Layout.pcaY);
  const [x0, x1] = Layout.pcaX;
  const [y0, y1] = Layout.pcaY;

  drawGrid(g, x, y, [-20, -10, 0, 10, 20], [-15, -5, 5, 15], [-8, -4, 0, 4], [-6, -2, 2, 6]);

  const ellipseLine = d3.line().curve(d3.curveLinearClosed);
  const ts = d3.range(0, 360, 2).map(a => (a * Math.PI) / 180);
  g.selectAll(null)
    .data(pcaEllipses)
    .join('path')
    .attr('d', e => ellipseLine(ts.map(t => [x(e.cx + e.ax * Math.cos(t)), y(e.cy + e.ay * Math.cos(t) + e.h * Math.sin(t))])))
    .attr('fill', e => (e.group === 'F' ? Style.femaleFill : Style.maleFill))
    .attr('stroke', e => colorOf(e.group))
    .attr('stroke-width', 1.2);

  const dash = g.append('g').attr('stroke', '#111').attr('stroke-width', 1.6).attr('stroke-dasharray', '5,3.5');
  dash.append('line').attr('x1', x(0)).attr('x2', x(0)).attr('y1', y0).attr('y2', y1);
  dash.append('line').attr('y1', y(0)).attr('y2', y(0)).attr('x1', x0).attr('x2', x1);

  for (const [grp, str] of [['F', pcaFemale], ['M', pcaMale]]) {
    g.selectAll(null)
      .data(pairs(str))
      .join('circle')
      .attr('cx', d => x(d[0]))
      .attr('cy', d => y(d[1]))
      .attr('r', 3)
      .attr('fill', colorOf(grp));
  }
  g.selectAll(null)
    .data(pcaCentroids)
    .join('circle')
    .attr('cx', d => x(d[1]))
    .attr('cy', d => y(d[2]))
    .attr('r', 5.8)
    .attr('fill', d => colorOf(d[0]));

  g.append('rect')
    .attr('x', x0)
    .attr('y', y1)
    .attr('width', x1 - x0)
    .attr('height', y0 - y1)
    .attr('fill', 'none')
    .attr('stroke', '#AAAAAA')
    .attr('stroke-width', 0.9);

  const ax = g
    .append('g')
    .attr('transform', `translate(0,${y0})`)
    .call(d3.axisBottom(x).tickValues([-20, -10, 0, 10, 20]).tickSize(3).tickPadding(3));
  styleAxis(ax, 12.5);
  ax.selectAll('.tick line').attr('stroke', '#AAAAAA');
  const ay = g
    .append('g')
    .attr('transform', `translate(${x0},0)`)
    .call(d3.axisLeft(y).tickValues([-8, -4, 0, 4]).tickSize(3).tickPadding(3));
  styleAxis(ay, 12.5);
  ay.selectAll('.tick line').attr('stroke', '#AAAAAA');

  text(g, (x0 + x1) / 2, 598, 'PC1 (54.1%)', { size: 15.5, anchor: 'middle' });
  text(g, 552, (y0 + y1) / 2, 'PC2 (6.4%)', { size: 15.5, anchor: 'middle', rotate: true });
  text(g, 536, 301, 'f', { size: 18, bold: true });
}

drawPca();

// ---------------------------------------------------------------- g boxplots

function jitter(i) {
  return (((i * 7) % 9) - 4) * 0.75;
}

function drawBoxPanel(gene, idx) {
  const r = Math.floor(idx / 7);
  const c = idx % 7;
  const left = Layout.boxLeft[r][c];
  const w = Layout.boxWidth;
  const top = Layout.plotTop[r];
  const bottom = Layout.plotBottom[r];
  const g = svg.append('g').attr('class', `box ${gene}`);

  const x = d3.scaleBand().domain(followUps).range([left, left + w]).paddingInner(0).paddingOuter(0.1);
  const sub = d3
    .scaleBand()
    .domain(sexes)
    .range([-0.375 * x.bandwidth(), 0.375 * x.bandwidth()]);
  const y = d3.scaleLinear().domain(boxDomains[gene]).range([bottom, top]);
  const centre = f => x(f) + x.bandwidth() / 2;
  const ticks = geneTicks[gene];

  // grid: vertical lines at follow-ups, horizontal majors and minors
  g.selectAll(null)
    .data(minorBreaks(ticks, boxDomains[gene]))
    .join('line')
    .attr('x1', left)
    .attr('x2', left + w)
    .attr('y1', d => y(d))
    .attr('y2', d => y(d))
    .attr('stroke', Style.gridMinor)
    .attr('stroke-width', 0.6);
  g.selectAll(null)
    .data(ticks)
    .join('line')
    .attr('x1', left)
    .attr('x2', left + w)
    .attr('y1', d => y(d))
    .attr('y2', d => y(d))
    .attr('stroke', Style.gridMajor);
  g.selectAll(null)
    .data(followUps)
    .join('line')
    .attr('x1', centre)
    .attr('x2', centre)
    .attr('y1', top)
    .attr('y2', bottom)
    .attr('stroke', Style.gridMajor);

  const groups = [];
  followUps.forEach((f, fi) =>
    sexes.forEach((s, si) => {
      const k = fi * 2 + si;
      const [lo, q1, med, q3, hi] = boxStats[gene][k];
      groups.push({ f, s, lo, q1, med, q3, hi, pts: values(boxPoints[gene][k]), cx: centre(f) + sub(s) + sub.bandwidth() / 2 });
    })
  );
  const bw = sub.bandwidth();

  // box fill
  g.selectAll(null)
    .data(groups)
    .join('rect')
    .attr('x', d => d.cx - bw / 2)
    .attr('y', d => y(d.q3))
    .attr('width', bw)
    .attr('height', d => y(d.q1) - y(d.q3))
    .attr('fill', d => colorOf(d.s))
    .attr('fill-opacity', 0.4);

  // points
  g.selectAll(null)
    .data(groups.flatMap(d => d.pts.map((v, i) => ({ v, s: d.s, x: d.cx + jitter(i) }))))
    .join('circle')
    .attr('cx', d => d.x)
    .attr('cy', d => y(d.v))
    .attr('r', 1.8)
    .attr('fill', d => colorOf(d.s))
    .attr('fill-opacity', 0.7);

  // whiskers, box outline, median
  g.selectAll(null)
    .data(groups)
    .join('path')
    .attr('d', d => `M${d.cx},${y(d.lo)}V${y(d.q1)}M${d.cx},${y(d.q3)}V${y(d.hi)}`)
    .attr('stroke', '#222')
    .attr('stroke-width', 0.8);
  g.selectAll(null)
    .data(groups)
    .join('rect')
    .attr('x', d => d.cx - bw / 2)
    .attr('y', d => y(d.q3))
    .attr('width', bw)
    .attr('height', d => y(d.q1) - y(d.q3))
    .attr('fill', 'none')
    .attr('stroke', '#333')
    .attr('stroke-width', 0.9);
  g.selectAll(null)
    .data(groups)
    .join('line')
    .attr('x1', d => d.cx - bw / 2)
    .attr('x2', d => d.cx + bw / 2)
    .attr('y1', d => y(d.med))
    .attr('y2', d => y(d.med))
    .attr('stroke', '#222')
    .attr('stroke-width', 1.7);

  // border and strip
  g.append('rect')
    .attr('x', left)
    .attr('y', top)
    .attr('width', w)
    .attr('height', bottom - top)
    .attr('fill', 'none')
    .attr('stroke', Style.border)
    .attr('stroke-width', 1.1);
  g.append('rect')
    .attr('x', left)
    .attr('y', Layout.stripTop[r])
    .attr('width', w)
    .attr('height', Layout.stripHeight)
    .attr('fill', '#D9D9D9')
    .attr('stroke', Style.border)
    .attr('stroke-width', 1.1);
  text(g, left + w / 2, Layout.stripTop[r] + Layout.stripHeight / 2, gene, { size: 12, anchor: 'middle', middle: true, fill: '#1A1A1A' });

  const decimals = ticks.some(t => !Number.isInteger(t));
  const ay = g
    .append('g')
    .attr('transform', `translate(${left},0)`)
    .call(d3.axisLeft(y).tickValues(ticks).tickSize(3).tickPadding(2).tickFormat(d3.format(decimals ? '.1f' : 'd')));
  styleAxis(ay, 10);
  const ax = g
    .append('g')
    .attr('transform', `translate(0,${bottom})`)
    .call(d3.axisBottom(x).tickSize(3).tickPadding(2));
  styleAxis(ax, 10);
}

genes.forEach(drawBoxPanel);

text(svg, 15, 629, 'g', { size: 18, bold: true });
text(svg, 27, 847, 'NPX', { size: 14.5, anchor: 'middle', rotate: true });
text(svg, 553, 1089, `Follow${MINUS}up`, { size: 14.5, anchor: 'middle' });
</script>
</body>
</html>
